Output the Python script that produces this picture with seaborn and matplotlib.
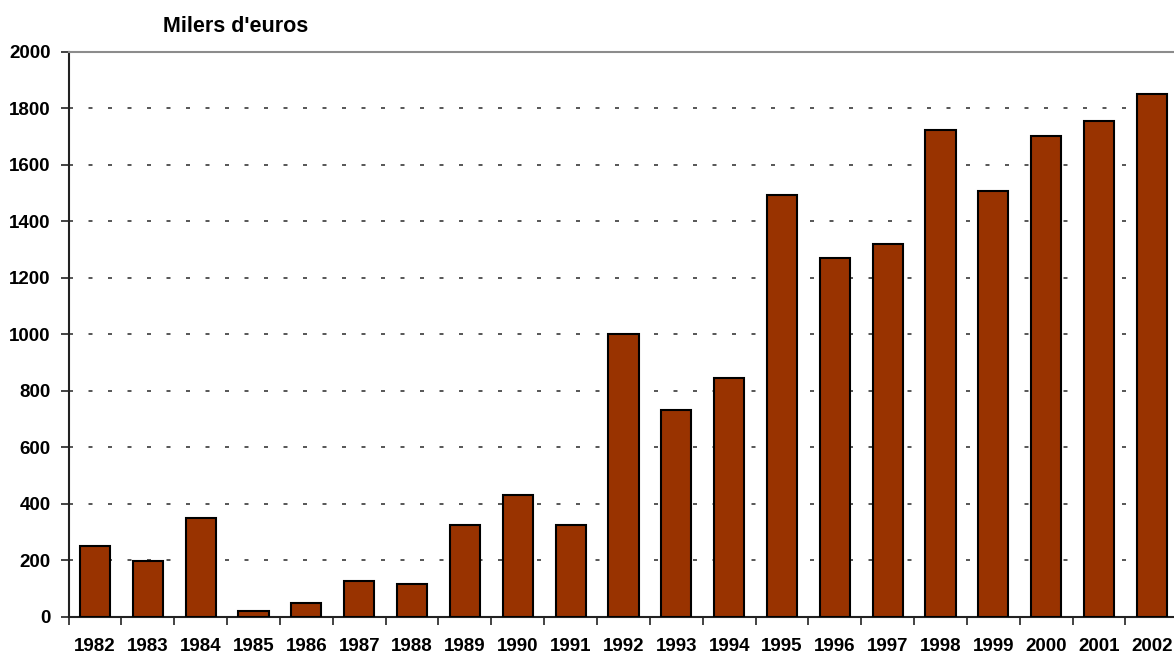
import numpy as np
import pandas as pd
import matplotlib
matplotlib.use("Agg")
import matplotlib.pyplot as plt
import seaborn as sns

# Data (thousands of euros)
years = [str(y) for y in range(1982, 2003)]
values = [252, 199, 350, 20, 50, 128, 115, 325, 430, 325, 1003,
          734, 845, 1495, 1272, 1321, 1725, 1507, 1703, 1755, 1852]
yticks = [0, 200, 400, 600, 800, 1000, 1200, 1400, 1600, 1800, 2000]

df = pd.DataFrame({"year": years, "value": values})

sns.set_theme(style="white")
plt.rcParams["font.family"] = ["Liberation Sans", "DejaVu Sans"]
plt.rcParams["font.weight"] = "bold"
plt.rcParams["text.color"] = "black"
plt.rcParams["xtick.color"] = "black"
plt.rcParams["ytick.color"] = "black"

fig = plt.figure(figsize=(11.74, 6.56), dpi=100)
ax = fig.add_axes([0.0584, 0.0595, 0.9453, 0.8613])

sns.barplot(data=df, x="year", y="value", color="#993300", saturation=1,
            width=0.57, edgecolor="black", linewidth=1.5, ax=ax, zorder=3)

ax.set_ylim(0, 2000)
ax.set_xlim(-0.5, len(years) - 0.5)
ax.set_yticks(yticks)
ax.set_yticklabels([str(t) for t in yticks], fontsize=13.5, fontweight="bold")
ax.set_xticks(range(len(years)))
ax.set_xticklabels(years, fontsize=13.5, fontweight="bold")
ax.set_xticks(np.arange(-0.5, len(years)), minor=True)

ax.tick_params(axis="x", which="major", length=0, pad=15.5, labelcolor="black")
ax.tick_params(axis="x", which="minor", length=6, width=1.2, color="#222222",
               bottom=True, direction="out")
ax.tick_params(axis="y", which="major", length=6, width=1.2, color="#222222",
               pad=7, left=True, direction="out", labelcolor="black")

# dashed gridlines
for t in yticks[1:-1]:
    ax.axhline(t, color="#3a3a3a", linewidth=1.2,
               linestyle=(0, (2.4, 9.3)), zorder=1)

ax.set_xlabel("")
ax.set_ylabel("")

for side in ["left", "bottom"]:
    ax.spines[side].set_visible(True)
    ax.spines[side].set_color("#222222")
    ax.spines[side].set_linewidth(1.5)
ax.spines["top"].set_color("#8c8c8c")
ax.spines["top"].set_linewidth(1.5)
ax.spines["right"].set_visible(False)

fig.text(236 / 1174, (656 - 31.5) / 656, "Milers d'euros", ha="center",
         va="baseline", fontsize=15.5, fontweight="bold", color="black")

fig.savefig("out.png", dpi=100)
